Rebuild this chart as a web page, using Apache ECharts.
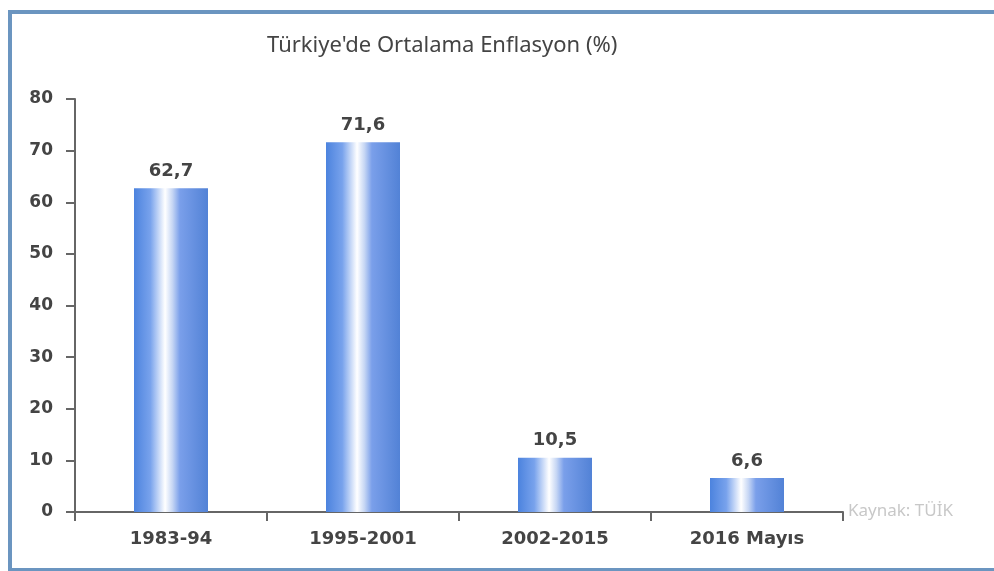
<!DOCTYPE html>
<html>
<head>
<meta charset="utf-8">
<script src="https://cdn.jsdelivr.net/npm/echarts@6/dist/echarts.min.js"></script>
<style>
  html, body { margin: 0; padding: 0; background: #fff; }
  .frame {
    position: absolute;
    left: 8px; top: 10px;
    width: 994px; height: 554px;
    border-left: 4px solid #6b95c0;
    border-top: 4px solid #6b95c0;
    border-bottom: 4px solid #6b95c0;
  }
  #chart { position: absolute; left: 0; top: 0; width: 994px; height: 571px; }
</style>
</head>
<body>
<div class="frame"></div>
<div id="chart"></div>
<script>
const periods = ['1983-94', '1995-2001', '2002-2015', '2016 Mayıs']
const inflation = [62.7, 71.6, 10.5, 6.6]
const yTicks = [0, 10, 20, 30, 40, 50, 60, 70, 80]

const chart = echarts.init(document.getElementById('chart'))

const barFill = new echarts.graphic.LinearGradient(0, 0, 1, 0, [
  { offset: 0, color: '#4c83de' },
  { offset: 0.22, color: '#78a2ec' },
  { offset: 0.42, color: '#ffffff' },
  { offset: 0.52, color: '#c6d6f4' },
  { offset: 0.62, color: '#7a9fea' },
  { offset: 1, color: '#5282d6' }
])

chart.setOption({
  animation: false,
  title: {
    text: 'Türkiye\'de Ortalama Enflasyon (%)',
    left: 262,
    top: 30,
    textStyle: {
      fontFamily: 'Noto Sans',
      fontSize: 22,
      fontWeight: 'normal',
      color: '#444'
    }
  },
  grid: {
    left: 75,
    right: 151,
    top: 99,
    bottom: 59
  },
  xAxis: {
    type: 'category',
    data: periods,
    axisLine: { lineStyle: { color: '#666', width: 2 } },
    axisTick: { show: true, length: 9, lineStyle: { color: '#666', width: 2 } },
    axisLabel: {
      margin: 18,
      fontFamily: 'DejaVu Sans',
      fontWeight: 'bold',
      fontSize: 18,
      color: '#444'
    }
  },
  yAxis: {
    type: 'value',
    min: yTicks[0],
    max: yTicks[yTicks.length - 1],
    interval: 10,
    splitLine: { show: false },
    axisLine: { show: true, lineStyle: { color: '#666', width: 2 } },
    axisTick: { show: true, length: 9, lineStyle: { color: '#666', width: 2 } },
    axisLabel: {
      margin: 22,
      fontFamily: 'DejaVu Sans',
      fontWeight: 'bold',
      fontSize: 17,
      color: '#444'
    }
  },
  series: [
    {
      type: 'bar',
      data: inflation,
      barWidth: 74,
      itemStyle: { color: barFill },
      label: {
        show: true,
        position: 'top',
        distance: 8,
        fontFamily: 'DejaVu Sans',
        fontWeight: 'bold',
        fontSize: 18,
        color: '#444',
        formatter: p => String(p.value).replace('.', ',')
      }
    }
  ],
  graphic: [
    {
      type: 'text',
      left: 848,
      top: 503,
      style: {
        text: 'Kaynak: TÜİK',
        fontFamily: 'Noto Sans',
        fontSize: 17,
        fill: '#c8c8c8'
      }
    }
  ]
})
</script>
</body>
</html>
